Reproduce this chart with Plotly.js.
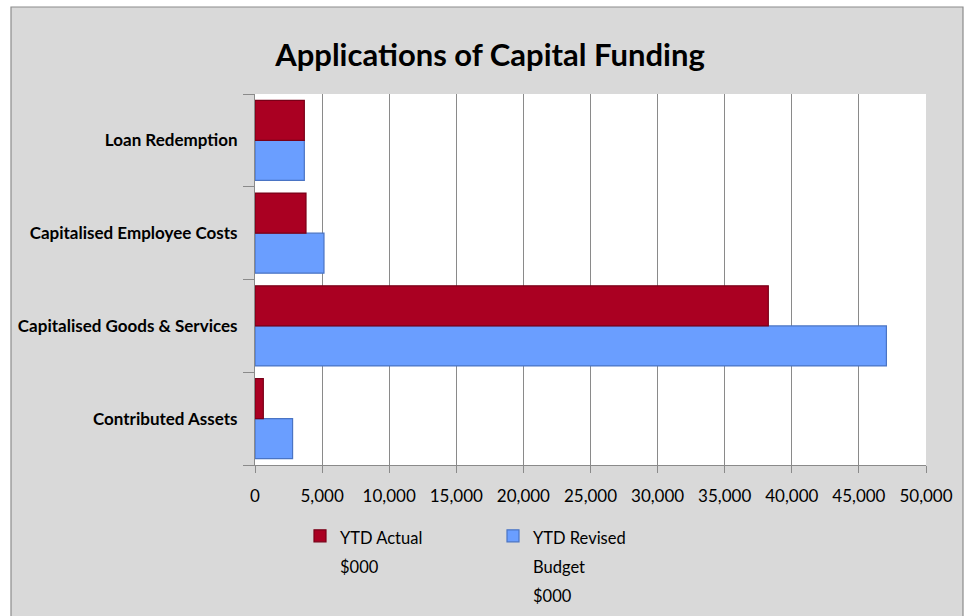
<!DOCTYPE html>
<html>
<head>
<meta charset="utf-8">
<script src="https://cdn.plot.ly/plotly-3.0.1.min.js"></script>
<style>html,body{margin:0;padding:0;background:#fff;}#chart{width:970px;height:616px;}</style>
</head>
<body>
<div id="chart"></div>
<script>
const categories = ["Contributed Assets", "Capitalised Goods & Services", "Capitalised Employee Costs", "Loan Redemption"];
const ytdActual = [620, 38250, 3800, 3675];
const ytdRevisedBudget = [2800, 47050, 5140, 3675];
const seriesNames = ["YTD Actual<br>$000", "YTD Revised<br>Budget<br>$000"];
const xTickValues = [0, 5000, 10000, 15000, 20000, 25000, 30000, 35000, 40000, 45000, 50000];
const xTickLabels = ["0", "5,000", "10,000", "15,000", "20,000", "25,000", "30,000", "35,000", "40,000", "45,000", "50,000"];

const FONT = "Lato, 'Open Sans', sans-serif";
function legendLabel(s) {
  return s.split("<br>").map(t => "<span style='font-size:16.5px'>" + t + "</span>").join("<br>");
}

const traces = [
  {
    type: "bar", orientation: "h",
    name: legendLabel(seriesNames[1]),
    y: categories, x: ytdRevisedBudget,
    marker: {color: "#6A9EFF", line: {color: "#4A74C4", width: 1.2}},
    legendrank: 2, hoverinfo: "x"
  },
  {
    type: "bar", orientation: "h",
    name: legendLabel(seriesNames[0]),
    y: categories, x: ytdActual,
    marker: {color: "#AA0022", line: {color: "#7A0018", width: 1.2}},
    legendrank: 1, hoverinfo: "x"
  }
];

const L = 255, R = 926, T = 94, B = 465;
const W = R - L, H = B - T;
const px = v => (v - L) / W;
const py = v => (B - v) / H;

const layout = {
  width: 970, height: 616,
  margin: {l: L, r: 970 - R, t: T, b: 616 - B, autoexpand: false},
  paper_bgcolor: "#D9D9D9",
  plot_bgcolor: "#FFFFFF",
  font: {family: FONT, color: "#000", size: 17},
  title: {
    text: "<b>Applications of Capital Funding</b>",
    font: {family: FONT, size: 31, color: "#000"},
    x: 490 / 970, xanchor: "center", xref: "container",
    y: 1 - 55 / 616, yanchor: "middle", yref: "container"
  },
  barmode: "group",
  bargap: 0.137,
  bargroupgap: 0,
  showlegend: true,
  legend: {
    orientation: "h",
    x: px(300), xanchor: "left",
    y: py(515), yanchor: "top",
    font: {family: FONT, size: 22, color: "#000"},
    bgcolor: "rgba(0,0,0,0)",
    entrywidth: 148,
    valign: "top",
    itemclick: false
  },
  xaxis: {
    range: [0, 50000],
    tickvals: xTickValues,
    ticktext: xTickLabels,
    tickfont: {family: FONT, size: 17, color: "#000"},
    showgrid: true, gridcolor: "#8A8A8A", gridwidth: 1,
    showline: true, linecolor: "#8A8A8A", linewidth: 1,
    ticks: "outside", ticklen: 7, tickcolor: "#8A8A8A",
    ticklabelstandoff: 9,
    zeroline: false, fixedrange: true
  },
  yaxis: {
    type: "category",
    tickfont: {family: FONT, size: 17, color: "#000", weight: "bold"},
    showgrid: false,
    showline: true, linecolor: "#8A8A8A", linewidth: 1,
    ticks: "outside", ticklen: 11, tickcolor: "#8A8A8A",
    tickson: "boundaries",
    ticklabelstandoff: 13,
    fixedrange: true
  },
  shapes: [
    {type: "rect", xref: "paper", yref: "paper", x0: px(0), x1: px(11), y0: py(620), y1: py(0), fillcolor: "#FFFFFF", line: {width: 0}},
    {type: "rect", xref: "paper", yref: "paper", x0: px(963), x1: px(970), y0: py(620), y1: py(0), fillcolor: "#FFFFFF", line: {width: 0}},
    {type: "rect", xref: "paper", yref: "paper", x0: px(0), x1: px(970), y0: py(7), y1: py(0), fillcolor: "#FFFFFF", line: {width: 0}},
    {type: "rect", xref: "paper", yref: "paper", x0: px(11), x1: px(963), y0: py(625), y1: py(7), fillcolor: "rgba(0,0,0,0)", line: {color: "#8C8C8C", width: 1.2}}
  ]
};

Plotly.newPlot("chart", traces, layout, {displayModeBar: false, staticPlot: true});
</script>
</body>
</html>
